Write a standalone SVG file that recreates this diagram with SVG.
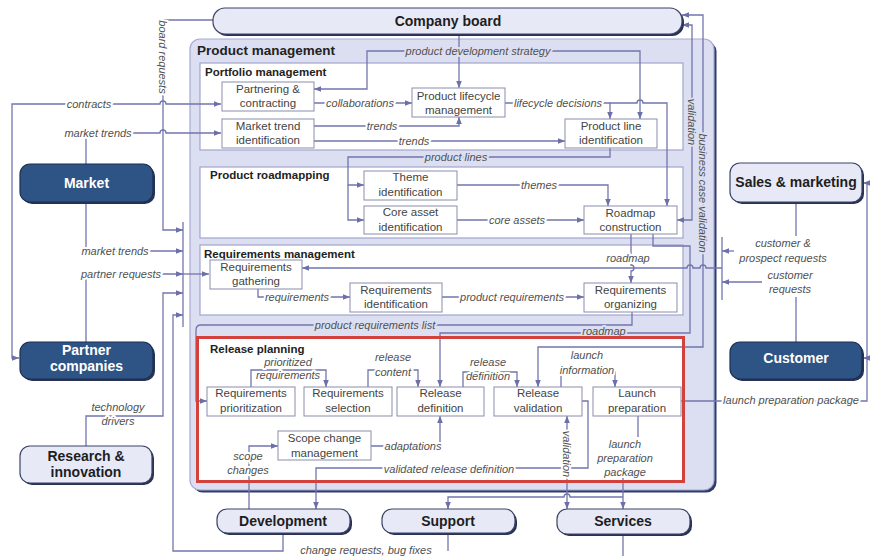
<svg xmlns="http://www.w3.org/2000/svg" width="870" height="556" viewBox="0 0 870 556">
<style>
.c{fill:none;stroke:#7275ad;stroke-width:1.3}
.a{marker-end:url(#ah)}
.b{marker-start:url(#ah);marker-end:url(#ah)}
.box{fill:#fff;stroke:#8b8dab;stroke-width:1}
.t{font-family:"Liberation Sans",Arial,sans-serif;font-size:11.5px;fill:#444;text-anchor:middle}
.l{font-family:"Liberation Sans",Arial,sans-serif;font-size:11px;font-style:italic;fill:#505050;text-anchor:middle;paint-order:stroke;stroke:#fff;stroke-width:4px;stroke-linejoin:round}
.lv{stroke:#dcdff2}
.h{font-family:"Liberation Sans",Arial,sans-serif;font-weight:bold;fill:#222}
.sec{fill:#fff;stroke:#a2a5cc;stroke-width:1.2}
.lt{fill:#e7e9f7;stroke:#3c4466;stroke-width:1.2}
.dk{fill:#2e5385;stroke:#1c2f52;stroke-width:1.2}
.sh{fill:#2a3254}
.nt{font-family:"Liberation Sans",Arial,sans-serif;font-weight:bold;font-size:14px;text-anchor:middle;fill:#1e1e1e}
.nw{fill:#fff}
</style>
<defs>
<marker id="ah" viewBox="0 0 8 8" refX="8" refY="4" markerWidth="7" markerHeight="7" markerUnits="userSpaceOnUse" orient="auto-start-reverse"><path d="M0,0.8 L8,4 L0,7.2 z" fill="#6c6fa8"/></marker>
</defs>
<rect width="870" height="556" fill="#fff"/>

<g id="containers">
<rect x="192.5" y="41.5" width="524" height="451" rx="10" fill="#2e3c6a"/>
<rect x="190" y="39" width="524" height="451" rx="10" fill="#dcdff2" stroke="#a7aad0" stroke-width="1.2"/>
<text class="h" x="197" y="55" font-size="13.5">Product management</text>
<rect class="sec" x="200" y="63" width="483" height="87"/>
<text class="h" x="205" y="76" font-size="11.5">Portfolio management</text>
<rect class="sec" x="200" y="167" width="483" height="71"/>
<text class="h" x="210" y="179" font-size="11.5">Product roadmapping</text>
<rect class="sec" x="200" y="245" width="483" height="70"/>
<text class="h" x="204" y="258" font-size="11.5">Requirements management</text>
<rect x="197.5" y="337.5" width="486" height="144" fill="#fff"/>
<text class="h" x="210" y="353" font-size="11.5">Release planning</text>
</g>

<g id="connectors">
<path class="c a" d="M213,20 H163 V230 H183"/>
<path class="c b" d="M221,104 H166 a3,3 0 0 0 -6,0 H12 V358 H19"/>
<path class="c a" d="M86,164 V133 H160 a3,3 0 0 1 6,0 H221"/>
<path class="c a" d="M86,202 V251 H183"/>
<path class="c a" d="M86,342 V274 H183"/>
<path class="c a" d="M183,274 H209"/>
<path class="c a" d="M86,446 V416 H163 V293 H183"/>
<path class="c" d="M183,222 V327"/>
<path class="c a" d="M283,533 V551 H173 V315 H183"/>
<path class="c" d="M448,533 V551"/>
<path class="c" d="M623,534 V556"/>

<path class="c a" d="M459,35 V88"/>
<path class="c a" d="M459,51 H640 V119"/>
<path class="c a" d="M459,51 H367 V89 H314"/>
<path class="c a" d="M314,103 H412"/>
<path class="c a" d="M314,126 H459 V117"/>
<path class="c a" d="M314,141 H565"/>
<path class="c a" d="M505,103 H610 V119"/>
<path class="c a" d="M610,103 H637 a3,3 0 0 1 6,0 H667 V206"/>
<path class="c a" d="M610,148 V157 H348 V185 H364"/>
<path class="c a" d="M348,185 V220 H364"/>
<path class="c a" d="M457,185 H608 V206"/>
<path class="c a" d="M457,220 H584"/>
<path class="c b" d="M682,25 H692 V220 H677"/>
<path class="c b" d="M682,15 H703 V347 H538 V387"/>
<path class="c a" d="M631,234 V265 a3,3 0 0 1 0,6 V283"/>
<path class="c a" d="M653,234 V246 H690 V333 H440 V387"/>
<path class="c" d="M722,237 V300"/>
<path class="c a" d="M734,251 H722"/>
<path class="c a" d="M762,282 H722"/>
<path class="c" d="M796,202 V236"/>
<path class="c" d="M796,342 V297"/>
<path class="c a" d="M722,268 H706 a3,3 0 0 0 -6,0 H693 a3,3 0 0 0 -6,0 H302"/>
<path class="c a" d="M258,289 V297 H350"/>
<path class="c a" d="M442,297 H584"/>
<path class="c a" d="M632,312 V325 H201 Q196,325 196,330 V401 H207"/>

<path class="c a" d="M251,387 V370 H326 V387"/>
<path class="c a" d="M368,387 V370 H418 V387"/>
<path class="c a" d="M463,387 V372 H517 V387"/>
<path class="c a" d="M561,387 V372 H615 V387"/>
<path class="c a" d="M371,446 H440 V416"/>
<path class="c a" d="M249,509 V446 H278"/>
<path class="c a" d="M582,401 H588 V468 H316 V509"/>
<path class="c b" d="M567,416 V509"/>
<path class="c" d="M638,416 V437"/>
<path class="c a" d="M623,477 V509"/>
<path class="c a" d="M623,497 H570 a3,3 0 0 0 -6,0 H448 V509"/>
<path class="c a" d="M681,401 H867 V183 H863"/>
<path class="c a" d="M867,358 H863"/>

<text class="l" x="89" y="108">contracts</text>
<text class="l" x="98" y="137">market trends</text>
<text class="l" x="163" y="57" dy="0.35em" transform="rotate(90 163 57)">board requests</text>
<text class="l" x="115" y="255">market trends</text>
<text class="l" x="121" y="278">partner requests</text>
<text class="l" x="118" y="411">technology</text>
<text class="l" x="118" y="425">drivers</text>
<text class="l lv" x="478" y="55">product development strategy</text>
<text class="l" x="360" y="107">collaborations</text>
<text class="l" x="382" y="130">trends</text>
<text class="l" x="414" y="145">trends</text>
<text class="l" x="558" y="107">lifecycle decisions</text>
<text class="l lv" x="456" y="161">product lines</text>
<text class="l" x="539" y="189">themes</text>
<text class="l" x="517" y="224">core assets</text>
<text class="l lv" x="692" y="122" dy="0.35em" transform="rotate(90 692 122)">validation</text>
<text class="l lv" x="703" y="193" dy="0.35em" transform="rotate(90 703 193)">business case validation</text>
<text class="l" x="628" y="262">roadmap</text>
<text class="l" x="783" y="247">customer &amp;</text>
<text class="l" x="783" y="262">prospect requests</text>
<text class="l" x="790" y="279">customer</text>
<text class="l" x="790" y="293">requests</text>
<text class="l" x="297" y="301">requirements</text>
<text class="l" x="512" y="301">product requirements</text>
<text class="l lv" x="375" y="329">product requirements list</text>
<text class="l lv" x="604" y="335">roadmap</text>
<text class="l" x="288" y="366">prioritized</text>
<text class="l" x="288" y="379">requirements</text>
<text class="l" x="393" y="361">release</text>
<text class="l" x="393" y="376">content</text>
<text class="l" x="488" y="366">release</text>
<text class="l" x="488" y="380">definition</text>
<text class="l" x="587" y="359">launch</text>
<text class="l" x="587" y="374">information</text>
<text class="l" x="413" y="450">adaptations</text>
<text class="l" x="248" y="460">scope</text>
<text class="l" x="248" y="474">changes</text>
<text class="l" x="449" y="473">validated release definition</text>
<text class="l" x="567" y="454" dy="0.35em" transform="rotate(90 567 454)">validation</text>
<text class="l" x="625" y="448">launch</text>
<text class="l" x="625" y="462">preparation</text>
<text class="l" x="625" y="476">package</text>
<text class="l" x="791" y="404">launch preparation package</text>
<text class="l" x="366" y="554">change requests, bug fixes</text>
</g>

<g id="company-board"><rect class="sh" x="215" y="10" width="469" height="26" rx="12"/><rect class="lt" x="213" y="8" width="469" height="26" rx="12"/><text class="nt" x="448" y="26">Company board</text></g>
<g id="market"><rect class="sh" x="22" y="166" width="133" height="38" rx="10"/><rect class="dk" x="20" y="164" width="133" height="38" rx="10"/><text class="nt nw" x="86.5" y="188">Market</text></g>
<g id="partner-companies"><rect class="sh" x="22" y="344" width="133" height="37" rx="10"/><rect class="dk" x="20" y="342" width="133" height="37" rx="10"/><text class="nt nw" x="86.5" y="355">Partner</text><text class="nt nw" x="86.5" y="371">companies</text></g>
<g id="research-innovation"><rect class="sh" x="22" y="448" width="132" height="37" rx="10"/><rect class="lt" x="20" y="446" width="132" height="37" rx="10"/><text class="nt" x="86" y="461">Research &amp;</text><text class="nt" x="86" y="477">innovation</text></g>
<g id="sales-marketing"><rect class="sh" x="732" y="165" width="132" height="39" rx="10"/><rect class="lt" x="730" y="163" width="132" height="39" rx="10"/><text class="nt" x="796" y="187">Sales &amp; marketing</text></g>
<g id="customer"><rect class="sh" x="732" y="344" width="132" height="37" rx="10"/><rect class="dk" x="730" y="342" width="132" height="37" rx="10"/><text class="nt nw" x="796" y="363">Customer</text></g>
<g id="development"><rect class="sh" x="219" y="511" width="133" height="24" rx="10"/><rect class="lt" x="217" y="509" width="133" height="24" rx="10"/><text class="nt" x="283" y="526">Development</text></g>
<g id="support"><rect class="sh" x="384" y="511" width="133" height="24" rx="10"/><rect class="lt" x="382" y="509" width="133" height="24" rx="10"/><text class="nt" x="448" y="526">Support</text></g>
<g id="services"><rect class="sh" x="559" y="511" width="133" height="25" rx="10"/><rect class="lt" x="557" y="509" width="133" height="25" rx="10"/><text class="nt" x="623" y="526">Services</text></g>

<g id="partnering-contracting"><rect class="box" x="222" y="82" width="92" height="29"/><text class="t" x="268" y="93">Partnering &amp;</text><text class="t" x="268" y="107">contracting</text></g>
<g id="product-lifecycle-management"><rect class="box" x="412" y="88" width="93" height="29"/><text class="t" x="458.5" y="100">Product lifecycle</text><text class="t" x="458.5" y="114">management</text></g>
<g id="market-trend-identification"><rect class="box" x="222" y="119" width="92" height="29"/><text class="t" x="268" y="130">Market trend</text><text class="t" x="268" y="144">identification</text></g>
<g id="product-line-identification"><rect class="box" x="565" y="119" width="92" height="29"/><text class="t" x="611" y="130">Product line</text><text class="t" x="611" y="144">identification</text></g>
<g id="theme-identification"><rect class="box" x="364" y="171" width="93" height="29"/><text class="t" x="410.5" y="181">Theme</text><text class="t" x="410.5" y="196">identification</text></g>
<g id="core-asset-identification"><rect class="box" x="364" y="206" width="93" height="28"/><text class="t" x="410.5" y="216">Core asset</text><text class="t" x="410.5" y="231">identification</text></g>
<g id="roadmap-construction"><rect class="box" x="584" y="206" width="93" height="28"/><text class="t" x="630.5" y="217">Roadmap</text><text class="t" x="630.5" y="231">construction</text></g>
<g id="requirements-gathering"><rect class="box" x="210" y="260" width="92" height="29"/><text class="t" x="256" y="271">Requirements</text><text class="t" x="256" y="285">gathering</text></g>
<g id="requirements-identification"><rect class="box" x="350" y="283" width="92" height="29"/><text class="t" x="396" y="294">Requirements</text><text class="t" x="396" y="308">identification</text></g>
<g id="requirements-organizing"><rect class="box" x="584" y="283" width="93" height="29"/><text class="t" x="630.5" y="294">Requirements</text><text class="t" x="630.5" y="308">organizing</text></g>
<g id="requirements-prioritization"><rect class="box" x="207" y="387" width="88" height="29"/><text class="t" x="251" y="397">Requirements</text><text class="t" x="251" y="412">prioritization</text></g>
<g id="requirements-selection"><rect class="box" x="304" y="387" width="88" height="29"/><text class="t" x="348" y="397">Requirements</text><text class="t" x="348" y="412">selection</text></g>
<g id="release-definition"><rect class="box" x="397" y="387" width="87" height="29"/><text class="t" x="440.5" y="397">Release</text><text class="t" x="440.5" y="412">definition</text></g>
<g id="release-validation"><rect class="box" x="494" y="387" width="88" height="29"/><text class="t" x="538" y="397">Release</text><text class="t" x="538" y="412">validation</text></g>
<g id="launch-preparation"><rect class="box" x="593" y="387" width="88" height="29"/><text class="t" x="637" y="397">Launch</text><text class="t" x="637" y="412">preparation</text></g>
<g id="scope-change-management"><rect class="box" x="278" y="431" width="93" height="29"/><text class="t" x="324.5" y="442">Scope change</text><text class="t" x="324.5" y="457">management</text></g>

<g id="release-planning-highlight"><rect x="197.5" y="337.5" width="486" height="144" fill="none" stroke="#d2413b" stroke-width="3"/></g>
</svg>
